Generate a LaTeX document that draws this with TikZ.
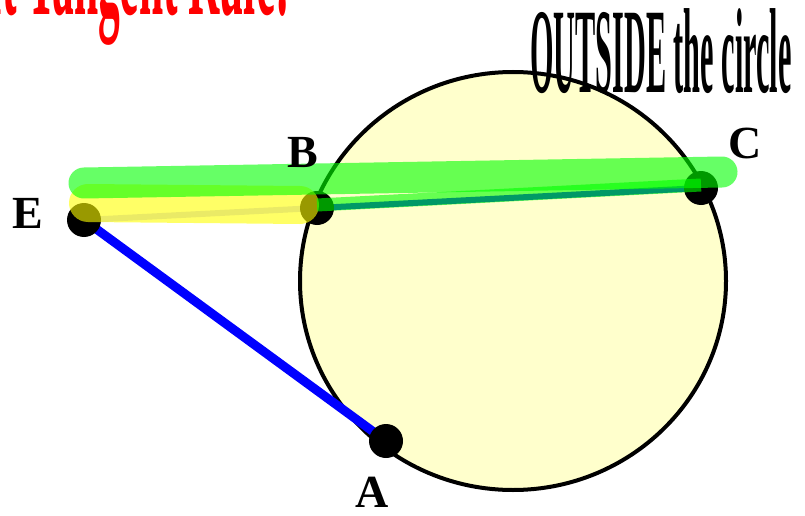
\documentclass[tikz,border=0pt]{standalone}
\usepackage{xcolor}
\usepackage{tikz}
\usepackage{fontspec}
\setmainfont{Liberation Serif}
\usetikzlibrary{arrows.meta,positioning,shapes.geometric}
\definecolor{DiscFill}  {HTML}{FFFFCC}
\definecolor{SecBlue}   {HTML}{0000FF}
\definecolor{MarkGreen} {HTML}{00FF00}
\definecolor{MarkYellow}{HTML}{FFFF00}
\definecolor{TitleRed}  {HTML}{FF0000}

\begin{document}
\begin{tikzpicture}[x=1pt,y=-1pt,
    pt/.style={circle,fill=black,inner sep=0pt,minimum size=34pt},
    ptlabel/.style={font=\fontsize{46}{46}\selectfont\bfseries},
    marker/.style={line width=#1,line cap=round,opacity=0.6}]
    \useasboundingbox (0,0) rectangle (805,516);
    \clip (0,0) rectangle (805,516);
    % the circle
    \draw[fill=DiscFill,line width=4pt] (513,281) ellipse [x radius=213,y radius=209];
    % points
    \coordinate (e) at (84,220);
    \coordinate (b) at (317,208);
    \coordinate (c) at (701,188);
    \coordinate (a) at (386,441);
    \draw[SecBlue,line width=9pt] (e) -- (a);
    \draw[SecBlue!20,line width=6pt] (e) -- (b);
    \draw[SecBlue,line width=6pt] (b) -- (c);
    \node[pt] (E) at (e) {};
    \node[pt] (B) at (b) {};
    \node[pt] (C) at (c) {};
    \node[pt] (A) at (a) {};
    % highlighter strokes
    \coordinate (y1) at (88,203);
    \coordinate (y2) at (300,205);
    \coordinate (g1) at (84,183);
    \coordinate (g2) at (722,172);
    \coordinate (h1) at (317,205);
    \coordinate (h2) at (701,185);
    \draw[MarkYellow,marker=38pt] (y1) -- (y2);
    \draw[MarkGreen,marker=31pt] (g1) -- (g2);
    \draw[MarkGreen,marker=13pt,line cap=butt] (h1) -- (h2);
    % labels
    \node[ptlabel] at (28,213) {E};
    \node[ptlabel] at (303,153) {B};
    \node[ptlabel] at (745,143) {C};
    \node[ptlabel] at (372,492) {A};
    \node[anchor=base west,inner sep=0pt] at (530,93)
      {\scalebox{0.25}[1]{\fontsize{121}{121}\selectfont\bfseries OUTSIDE the circle}};
    \node[anchor=base east,inner sep=0pt,text=TitleRed] at (290,15)
      {\scalebox{0.31}[1]{\fontsize{140}{140}\selectfont\bfseries Secant Tangent Rule!}};
\end{tikzpicture}
\end{document}
